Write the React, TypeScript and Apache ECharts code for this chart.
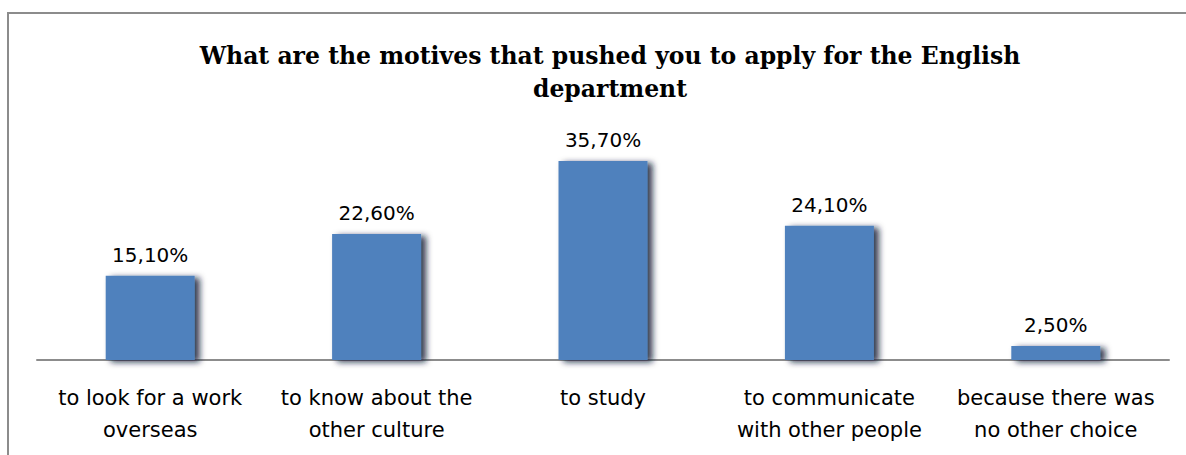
import React, { useEffect, useRef } from "react";
import * as echarts from "echarts";

const categories = [
  "to look for a work\noverseas",
  "to know about the\nother culture",
  "to study",
  "to communicate\nwith other people",
  "because there was\nno other choice",
];
const shares = [15.1, 22.6, 35.7, 24.1, 2.5];
const titleLines = ["What are the motives that pushed you to apply for the English", "department"];

const fmt = (v: number) => v.toFixed(2).replace(".", ",") + "%";

export default function App() {
  const ref = useRef<HTMLDivElement>(null);
  useEffect(() => {
    if (!ref.current) return;
    const chart = echarts.init(ref.current, undefined, { renderer: "svg" });
    chart.setOption({
      animation: false,
      backgroundColor: "#ffffff",
      title: {
        text: titleLines.join("\n"),
        left: 605,
        top: 34,
        textAlign: "center",
        textStyle: {
          fontFamily: "DejaVu Serif",
          fontWeight: "bold",
          fontSize: 23.5,
          lineHeight: 33,
          color: "#000",
        },
      },
      graphic: [
        {
          type: "rect",
          shape: { x: 8, y: 13, width: 1200, height: 500 },
          style: { fill: "none", stroke: "#8c8c8c", lineWidth: 2 },
          silent: true,
        },
      ],
      grid: {
        left: 37,
        right: 17,
        top: 137,
        bottom: 95,
        containLabel: false,
        outerBoundsMode: "none",
      },
      xAxis: {
        type: "category",
        data: categories,
        axisLine: { show: true, lineStyle: { color: "#8c8c8c", width: 2 } },
        axisTick: { show: false },
        axisLabel: {
          interval: 0,
          margin: 22,
          fontFamily: "DejaVu Sans",
          fontSize: 21,
          lineHeight: 32,
          color: "#000",
        },
      },
      yAxis: {
        type: "value",
        min: 0,
        max: 40,
        show: false,
        splitLine: { show: false },
      },
      series: [
        {
          type: "bar",
          data: shares,
          barWidth: 89,
          itemStyle: {
            color: "#4f81bd",
            shadowColor: "rgba(10,25,50,0.85)",
            shadowBlur: 6,
            shadowOffsetX: 5,
            shadowOffsetY: 2,
          },
          label: {
            show: true,
            position: "top",
            distance: 11,
            formatter: (p: any) => fmt(p.value),
            fontFamily: "DejaVu Sans",
            fontSize: 20,
            color: "#000",
          },
        },
      ],
    });
    return () => chart.dispose();
  }, []);
  return (
    <div
      ref={ref}
      style={{ position: "fixed", left: 0, top: 0, width: 1186, height: 455 }}
    />
  );
}
